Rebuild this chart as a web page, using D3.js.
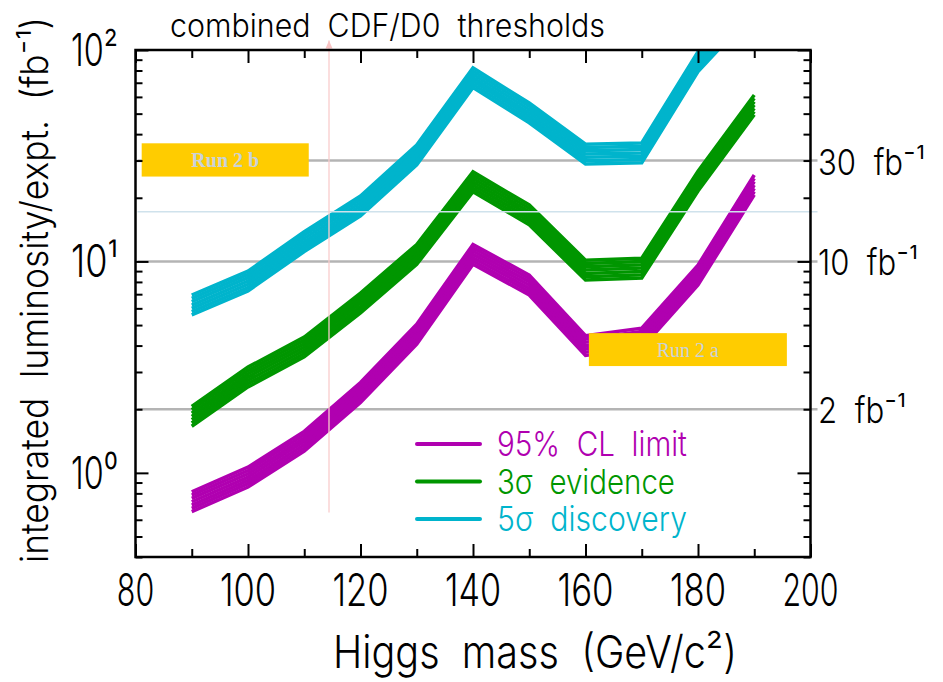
<!DOCTYPE html>
<html>
<head>
<meta charset="utf-8">
<script src="https://cdn.jsdelivr.net/npm/d3@7"></script>
<style>
  body { margin: 0; background: #fff; }
  text { white-space: pre; }
</style>
</head>
<body>
<svg id="chart" width="943" height="682"></svg>
<script>
// Higgs mass points (GeV/c^2)
const masses = [90, 100, 110, 120, 130, 140, 150, 160, 170, 180, 190];
// integrated luminosity per experiment (fb^-1)
const limit95 = [0.73, 0.955, 1.41, 2.4, 4.53, 10.8, 7.73, 4.0, 4.34, 8.62, 23.0];
const evidence3s = [1.85, 2.84, 3.94, 6.36, 10.8, 23.8, 16.6, 9.1, 9.3, 24.0, 55];
const discovery5s = [6.22, 8.08, 12.4, 18.3, 31.9, 74, 50.4, 32.2, 32.6, 88, 170];
const seriesNames = ['95%  CL  limit', '3σ  evidence', '5σ  discovery'];
const seriesColors = ['#b000b0', '#009600', '#00b4cc'];

const xTicks = [80, 100, 120, 140, 160, 180, 200];
const yDecades = [1, 10, 100];
const yTickLabels = ['10⁰', '10¹', '10²'];
const refLumis = [2, 10, 30];
const refLabels = ['2  fb⁻¹', '10  fb⁻¹', '30  fb⁻¹'];
const lepLimit = 114.4;
const lepSpan = [0.65, 111];
const extraLine = 17.2;
const runBoxes = [
  { name: 'Run 2 b', x: [81.1, 110.8], y: [25.2, 36.2], bold: true },
  { name: 'Run 2 a', x: [160.6, 195.8], y: [3.2, 4.58], bold: false },
];

const svg = d3.select('#chart');
const x = d3.scaleLinear().domain([80, 200]).range([135.5, 810.5]);
const y = d3.scaleLog().domain([0.4, 100]).range([557, 50]);
const [x0, x1] = x.range();
const [y0, y1] = y.range();

const font = '"Inter", "DejaVu Sans", sans-serif';

// text squeezed horizontally to a given width
function run(g, px, py, str, size, width, color, anchor, rot) {
  const t = g.append('text')
    .attr('font-family', font)
    .attr('font-weight', 300)
    .attr('font-size', size)
    .attr('fill', color || '#000')
    .attr('text-anchor', anchor || 'start')
    .text(str);
  const sx = width / t.node().getComputedTextLength();
  t.attr('transform', `translate(${px},${py})${rot ? ` rotate(${rot})` : ''} scale(${sx},1)`);
  return t;
}

svg.append('defs').append('clipPath').attr('id', 'frame')
  .append('rect').attr('x', x0).attr('y', y1).attr('width', x1 - x0).attr('height', y0 - y1);

// reference luminosity lines
svg.append('g').selectAll('line').data(refLumis).join('line')
  .attr('x1', x0 + 2).attr('x2', x1 + 7)
  .attr('y1', d => y(d)).attr('y2', d => y(d))
  .attr('stroke', '#b4b4b4').attr('stroke-width', 2.5);

// bands: each curve is drawn as a stack of offset strokes
const bandOffsets = d3.range(-3, 4).map(k => k * 3.3);
const line = d3.line().x(d => x(d[0])).y(d => y(d[1]));
const series = [limit95, evidence3s, discovery5s];
const bands = svg.append('g').attr('clip-path', 'url(#frame)');
series.forEach((vals, i) => {
  const pts = masses.map((m, j) => [m, vals[j]]);
  bands.append('g').selectAll('path').data(bandOffsets).join('path')
    .attr('d', line(pts))
    .attr('transform', d => `translate(0,${d})`)
    .attr('fill', 'none')
    .attr('stroke', seriesColors[i])
    .attr('stroke-width', 3.5)
    .attr('stroke-linejoin', 'miter');
});

// thin light line
svg.append('line')
  .attr('x1', x0 + 2).attr('x2', x1 + 7)
  .attr('y1', y(extraLine)).attr('y2', y(extraLine))
  .attr('stroke', '#cfe2ec').attr('stroke-width', 1.5);

// LEP limit marker
svg.append('line')
  .attr('x1', x(lepLimit)).attr('x2', x(lepLimit))
  .attr('y1', y(lepSpan[0])).attr('y2', y(lepSpan[1]))
  .attr('stroke', '#f9cccc').attr('stroke-width', 1.3);
svg.append('path')
  .attr('d', `M${x(lepLimit)},${y(lepSpan[1])} l-3.5,8 h7 z`)
  .attr('fill', '#f9c4c4');

// run boxes
runBoxes.forEach(b => {
  svg.append('rect')
    .attr('x', x(b.x[0])).attr('y', y(b.y[1]))
    .attr('width', x(b.x[1]) - x(b.x[0])).attr('height', y(b.y[0]) - y(b.y[1]))
    .attr('fill', '#ffcc00');
  svg.append('text')
    .attr('x', (x(b.x[0]) + x(b.x[1])) / 2)
    .attr('y', (y(b.y[0]) + y(b.y[1])) / 2 + 7)
    .attr('text-anchor', 'middle')
    .attr('font-family', '"Liberation Serif", "Times New Roman", serif')
    .attr('font-weight', b.bold ? 'bold' : 'normal')
    .attr('font-size', 20)
    .attr('fill', '#c9d2d8')
    .text(b.name);
});

// frame and ticks
const minorX = d3.range(90, 200, 20);
const minorY = [0.4, 0.5, 0.6, 0.7, 0.8, 0.9, 2, 3, 4, 5, 6, 7, 8, 9, 20, 30, 40, 50, 60, 70, 80, 90];
const axes = [
  [d3.axisTop(x).tickValues(xTicks).tickSize(13), `translate(0,${y0})`],
  [d3.axisTop(x).tickValues(minorX).tickSize(8), `translate(0,${y0})`],
  [d3.axisBottom(x).tickValues(xTicks).tickSize(13), `translate(0,${y1})`],
  [d3.axisBottom(x).tickValues(minorX).tickSize(8), `translate(0,${y1})`],
  [d3.axisRight(y).tickValues(yDecades).tickSize(13), `translate(${x0},0)`],
  [d3.axisRight(y).tickValues(minorY).tickSize(7), `translate(${x0},0)`],
  [d3.axisLeft(y).tickValues(yDecades).tickSize(13), `translate(${x1},0)`],
  [d3.axisLeft(y).tickValues(minorY).tickSize(7), `translate(${x1},0)`],
];
axes.forEach(([ax, tr]) => {
  const g = svg.append('g').attr('transform', tr).call(ax.tickFormat(() => ''));
  g.select('.domain').remove();
  g.selectAll('line').attr('stroke', '#000').attr('stroke-width', 2);
});
svg.append('rect')
  .attr('x', x0).attr('y', y1).attr('width', x1 - x0).attr('height', y0 - y1)
  .attr('fill', 'none').attr('stroke', '#000').attr('stroke-width', 2.5);

// tick labels
xTicks.forEach(v => {
  const s = String(v);
  run(svg, x(v), 606, s, 45, s.length * 18.7, '#000', 'middle');
});
yDecades.forEach((v, i) => {
  run(svg, 71, y(v) + 16, yTickLabels[i], 45, 47);
});
const refW = [88, 100, 107];
refLumis.forEach((v, i) => {
  run(svg, 818, y(v) + 14, refLabels[i], 36, refW[i]);
});

// titles
run(svg, 170, 37, 'combined  CDF/D0  thresholds', 32, 435);
run(svg, 333, 668, 'Higgs  mass  (GeV/c²)', 45, 404);
run(svg, 48, 563, 'integrated  luminosity/expt.  (fb⁻¹)', 38, 546, '#000', 'start', -90);

// legend
const legendW = [190, 178, 190];
seriesNames.forEach((name, i) => {
  const ly = 444 + i * 37.5;
  svg.append('line')
    .attr('x1', 417).attr('x2', 480).attr('y1', ly).attr('y2', ly)
    .attr('stroke', seriesColors[i]).attr('stroke-width', 4).attr('stroke-linecap', 'round');
  run(svg, 497, ly + 12, name, 34, legendW[i], seriesColors[i]);
});
</script>
</body>
</html>
